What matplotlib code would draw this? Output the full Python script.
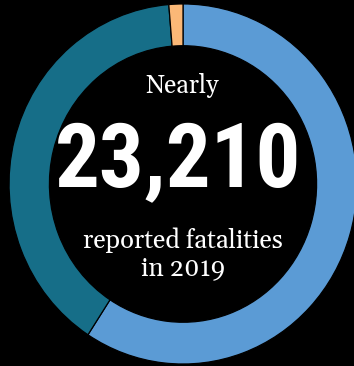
import matplotlib.pyplot as plt

# share of 2019 fatalities by group (percent)
groups = ["Group A", "Group B", "Group C"]
shares = [59.2, 39.5, 1.3]
colors = ["#5b9bd5", "#166e88", "#fbb877"]

total_label = "23,210"
year = 2019

fig = plt.figure(figsize=(3.54, 3.66), dpi=100, facecolor="black")
ax = fig.add_axes([0, 0, 1, 1])
ax.set_facecolor("black")

ax.pie(shares, colors=colors, startangle=90, counterclock=False,
       radius=1.0, wedgeprops=dict(width=0.232, edgecolor="black", linewidth=0.9))
ax.set_aspect("auto")
ax.set_xlim(-1.052, 0.983)
ax.set_ylim(-1.011, 1.022)
ax.axis("off")

def px(x, y):
    return x / 354, 1 - y / 366

serif = ["Gelasio", "DejaVu Serif"]
fig.text(*px(182, 86), "Nearly", color="white", fontsize=18, family=serif,
         ha="center", va="center")
fig.text(*px(178, 163), total_label, color="white", fontsize=64,
         family=["Roboto Condensed", "DejaVu Sans"], weight="heavy",
         ha="center", va="center")
fig.text(*px(183, 240), "reported fatalities", color="white", fontsize=18.3,
         family=serif, ha="center", va="center")
fig.text(*px(183, 268), "in %d" % year, color="white", fontsize=18.3,
         family=serif, ha="center", va="center")

fig.savefig("out.png", dpi=100, facecolor="black")
